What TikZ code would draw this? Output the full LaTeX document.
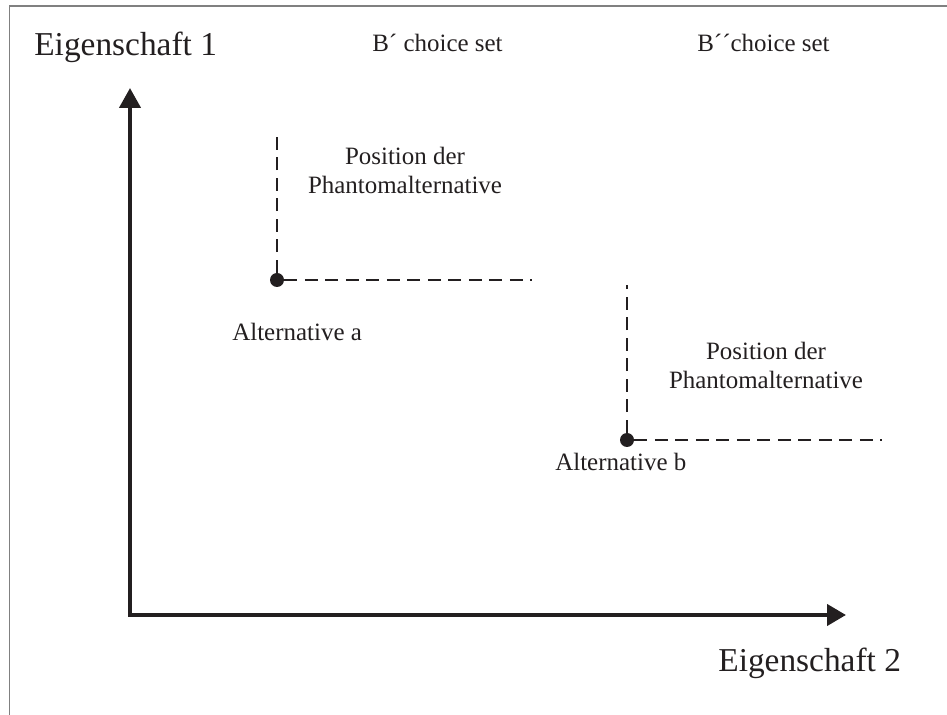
\documentclass[tikz,border=0pt]{standalone}
\usepackage{fontspec}
\setmainfont{Liberation Serif}
\usetikzlibrary{arrows.meta}
\definecolor{ink}{RGB}{35,31,32}
\begin{document}
\begin{tikzpicture}
    [
    x=0.02cm, y=-0.02cm,
    point/.style={circle,fill=ink,inner sep=0pt,minimum size=2.8mm},
    axis/.style={line width=2.4pt,draw=ink,line join=miter,{Triangle[length=4mm,width=4.2mm]}-{Triangle[length=3.8mm,width=4.2mm]}},
    guide/.style={line width=1.4pt,draw=ink,dash pattern=on 2.6mm off 1.5mm},
    bigtext/.style={inner sep=0pt,anchor=base west,text=ink,font=\fontsize{19}{22}\selectfont},
    smalltext/.style={inner sep=0pt,anchor=base west,text=ink,font=\fontsize{14.2}{16.5}\selectfont},
    phantom/.style={inner sep=0pt,align=center,text=ink,font=\fontsize{14.2}{16.5}\selectfont}
    ]
    \useasboundingbox (0,0) rectangle (947,715);
    \draw [gray, line width=1pt] (9.5,715) -- (9.5,6) -- (947,6);
    % axes
    \coordinate (o) at (130,615);
    \coordinate (ytip) at (130,88);
    \coordinate (xtip) at (846,615);
    \draw [axis] (ytip) -- (o) -- (xtip);
    \node (e1) at (34,56) [bigtext] {Eigenschaft 1};
    \node (e2) at (718,672) [bigtext] {Eigenschaft 2};
    \node (s1) at (372,52) [smalltext] {B´ choice set};
    \node (s2) at (697,52) [smalltext] {B´´choice set};
    % alternative a
    \node (a) at (277,280) [point] {};
    \coordinate (atop) at (277,130);
    \coordinate (aright) at (532,280);
    \draw [guide] (a) -- (atop);
    \draw [guide] (a) -- (aright);
    \node (pa) at (405,170) [phantom] {Position der\\Phantomalternative};
    \node (la) at (232,341) [smalltext] {Alternative a};
    % alternative b
    \node (b) at (627,440) [point] {};
    \coordinate (btop) at (627,285);
    \coordinate (bright) at (882,436);
    \draw [guide] (b) -- (btop);
    \draw [guide] (b) -- (bright |- b);
    \node (pb) at (766,365) [phantom] {Position der\\Phantomalternative};
    \node (lb) at (555,471) [smalltext] {Alternative b};
\end{tikzpicture}
\end{document}
